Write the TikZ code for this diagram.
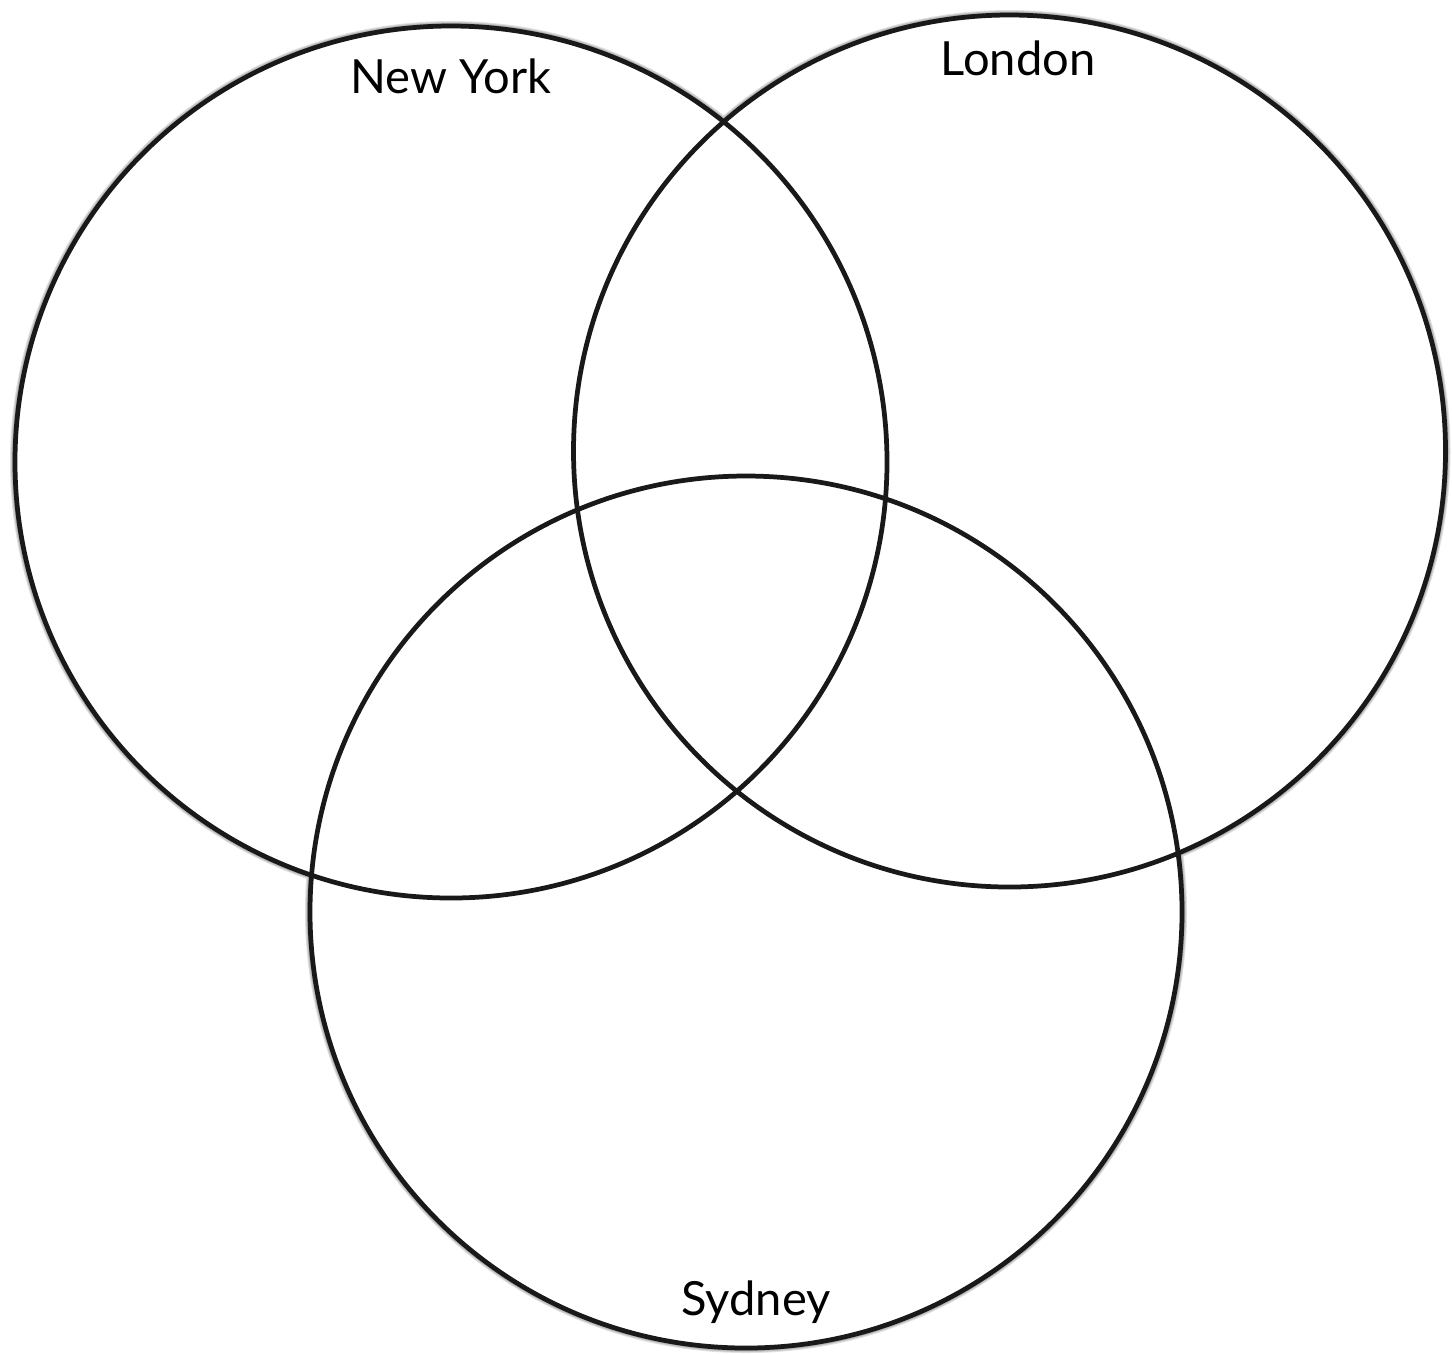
\documentclass[tikz,border=0pt]{standalone}
\usepackage{fontspec}
\setmainfont{Lato}
\usepackage{tikz}
\usetikzlibrary{positioning}

\begin{document}
\begin{tikzpicture}[
  ring/.style   = {line width=1.35pt, draw=black!90},
  city/.style   = {font=\fontsize{13.4}{16}\selectfont, inner sep=0pt, anchor=base}
]
  \useasboundingbox (0,0) rectangle (14.52,-13.53);
  \coordinate (ny)  at (4.51,-4.62);
  \coordinate (lon) at (10.095,-4.51);
  \coordinate (syd) at (7.46,-9.12);

  % soft shadow under the three rings
  \foreach \i in {1,...,14}
    \fill[black, opacity=0.12, shift={(0.09,-0.10)}]
      (ny) circle (4.42-0.01*\i) (lon) circle (4.42-0.01*\i) (syd) circle (4.42-0.01*\i);
  \fill[white] (ny) circle (4.36) (lon) circle (4.36) (syd) circle (4.36);

  \draw[ring] (ny) circle (4.36);
  \draw[ring] (lon) circle (4.36);
  \draw[ring] (syd) circle (4.36);

  \node[city] (nyl)  at (4.51,-0.93)  {New York};
  \node[city] (lonl) at (10.18,-0.75) {London};
  \node[city] (sydl) at (7.56,-13.15) {Sydney};
\end{tikzpicture}
\end{document}
